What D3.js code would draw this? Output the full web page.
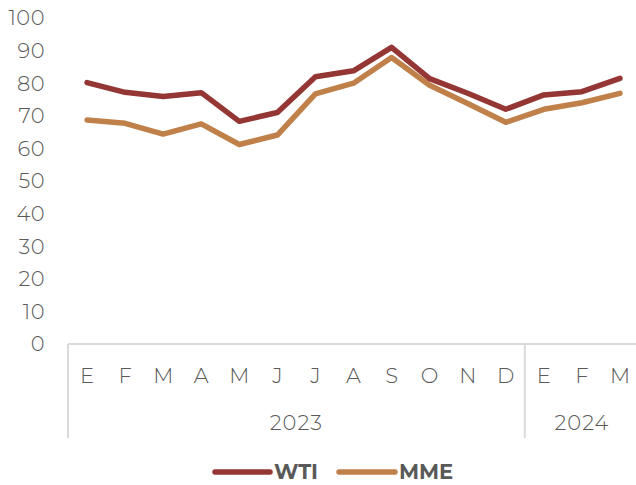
<!DOCTYPE html>
<html><head><meta charset="utf-8">
<script src="https://cdn.jsdelivr.net/npm/d3@7"></script>
<style>body{margin:0;background:#fff}svg{display:block}</style>
</head><body>
<script>
const months = ["E","F","M","A","M","J","J","A","S","O","N","D","E","F","M"];
const years = [{label:"2023", n:12},{label:"2024", n:3}];
const wti = [80.2,77.2,75.9,77.1,68.3,71.0,82.0,83.8,91.0,81.4,76.9,72.0,76.4,77.4,81.5];
const mme = [68.7,67.7,64.4,67.5,61.2,64.1,76.7,80.0,87.9,79.4,73.8,68.0,72.0,74.0,76.9];
const yTicks = [0,10,20,30,40,50,60,70,80,90,100];
const seriesNames = ["WTI","MME"];
const colors = ["#943634","#C0804A"];

const W=636,H=485;
const svg=d3.select("body").append("svg").attr("width",W).attr("height",H);
const font="Montserrat, 'Open Sans', Lato, sans-serif";
const x=d3.scaleBand().domain(d3.range(months.length)).range([68,639]);
const y=d3.scaleLinear().domain([0,100]).range([344,18]);

// y labels
svg.append("g").selectAll("text").data(yTicks).join("text")
  .attr("x",45).attr("y",d=>y(d)).attr("dy","0.35em").attr("text-anchor","end")
  .attr("font-family",font).attr("font-size",21).attr("font-weight",300).attr("fill","#595959")
  .attr("letter-spacing",0.5).text(d=>d);

// axis line
const axisC="#d9d9d9";
svg.append("line").attr("x1",68).attr("x2",639).attr("y1",344).attr("y2",344).attr("stroke",axisC).attr("stroke-width",2);
let idx=0;
const seps=[0];
years.forEach(g=>{idx+=g.n;seps.push(idx);});
seps.forEach(i=>{
  if(i>=months.length) return;
  const xx = x(i);
  svg.append("line").attr("x1",xx).attr("x2",xx).attr("y1",344).attr("y2",438).attr("stroke",axisC).attr("stroke-width",2);
});
// month labels
svg.append("g").selectAll("text").data(months).join("text")
  .attr("x",(d,i)=>x(i)+x.bandwidth()/2).attr("y",376).attr("dy","0.35em").attr("text-anchor","middle")
  .attr("font-family",font).attr("font-size",21).attr("font-weight",300).attr("fill","#595959").text(d=>d);
// year labels
let start=0;
years.forEach(g=>{
  const cx=(x(start)+x(start+g.n-1)+x.bandwidth())/2;
  svg.append("text").attr("x",cx).attr("y",423).attr("dy","0.35em").attr("text-anchor","middle")
    .attr("font-family",font).attr("font-size",21).attr("font-weight",300).attr("fill","#595959")
    .attr("letter-spacing",1).text(g.label);
  start+=g.n;
});

const line=d3.line().x((d,i)=>x(i)+x.bandwidth()/2).y(d=>y(d));
[mme,wti].forEach((s)=>{
  const k = s===wti?0:1;
  svg.append("path").datum(s).attr("d",line).attr("fill","none").attr("stroke",colors[k])
    .attr("stroke-width",5.5).attr("stroke-linejoin","round").attr("stroke-linecap","round");
});

// legend
const leg=[{x0:215,x1:270,tx:274},{x0:339,x1:395,tx:399}];
seriesNames.forEach((n,k)=>{
  svg.append("line").attr("x1",leg[k].x0).attr("x2",leg[k].x1).attr("y1",472).attr("y2",472)
    .attr("stroke",colors[k]).attr("stroke-width",5.5).attr("stroke-linecap","round");
  svg.append("text").attr("x",leg[k].tx).attr("y",472).attr("dy","0.35em")
    .attr("font-family",font).attr("font-size",21).attr("font-weight",700).attr("fill","#595959").text(n);
});
</script>
</body></html>
